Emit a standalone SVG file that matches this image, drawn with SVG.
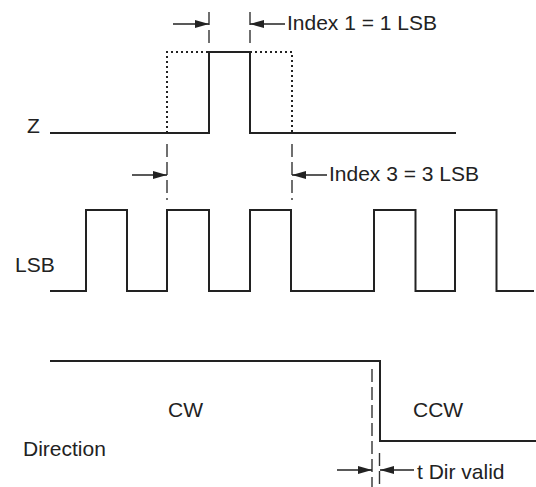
<svg xmlns="http://www.w3.org/2000/svg" width="536" height="487" viewBox="0 0 536 487">
<style>
.wave{fill:none;stroke:#222;stroke-width:2;stroke-linejoin:miter}
.dot{fill:none;stroke:#222;stroke-width:2;stroke-dasharray:2 3}
.dash{fill:none;stroke:#333;stroke-width:1.4;stroke-dasharray:13 5}
.arr{fill:none;stroke:#222;stroke-width:1.5;marker-end:url(#ah)}
text{font-family:"Liberation Sans",Arial,sans-serif;font-size:21px;fill:#222}
</style>
<defs>
<marker id="ah" markerUnits="userSpaceOnUse" markerWidth="15" markerHeight="10" refX="14" refY="4.5" orient="auto">
<path d="M0,0.5 L14,4.5 L0,8.5 Z" fill="#222"/>
</marker>
</defs>
<g id="z-signal">
<path class="wave" d="M50,133 H209 V52 H250 V133 H456"/>
<path class="dot" d="M167,133 V52 H209 M250,52 H292 V133"/>
<text x="27" y="133">Z</text>
</g>
<g id="lsb-signal">
<path class="wave" d="M50,291 H86 V210 H127 V291 H167 V210 H209 V291 H250 V210 H291 V291 H374 V210 H415.5 V291 H455 V210 H496.5 V291 H534"/>
<text x="15" y="272">LSB</text>
</g>
<g id="direction-signal">
<path class="wave" d="M50,361 H380 V441 H536"/>
<text x="168" y="417">CW</text>
<text x="413" y="417">CCW</text>
<text x="23" y="456">Direction</text>
</g>
<g id="index1-label">
<text x="287" y="30">Index 1 = 1 LSB</text>
</g>
<g id="index3-label">
<text x="329" y="181">Index 3 = 3 LSB</text>
</g>
<g id="tdir-label">
<text x="417" y="479">t Dir valid</text>
</g>
<g id="connectors">
<path class="dash" d="M209,12 V48 M250,12 V48"/>
<path class="dash" d="M167,144 V200 M292,144 V200"/>
<path class="dash" d="M372,369 V487"/>
<path class="dash" d="M379.5,453 V487"/>
<path class="arr" d="M173,24 H209"/>
<path class="arr" d="M285,24 H250"/>
<path class="arr" d="M132,175 H167"/>
<path class="arr" d="M327,175 H292"/>
<path class="arr" d="M337,470 H372"/>
<path class="arr" d="M414,470 H380"/>
</g>
</svg>
